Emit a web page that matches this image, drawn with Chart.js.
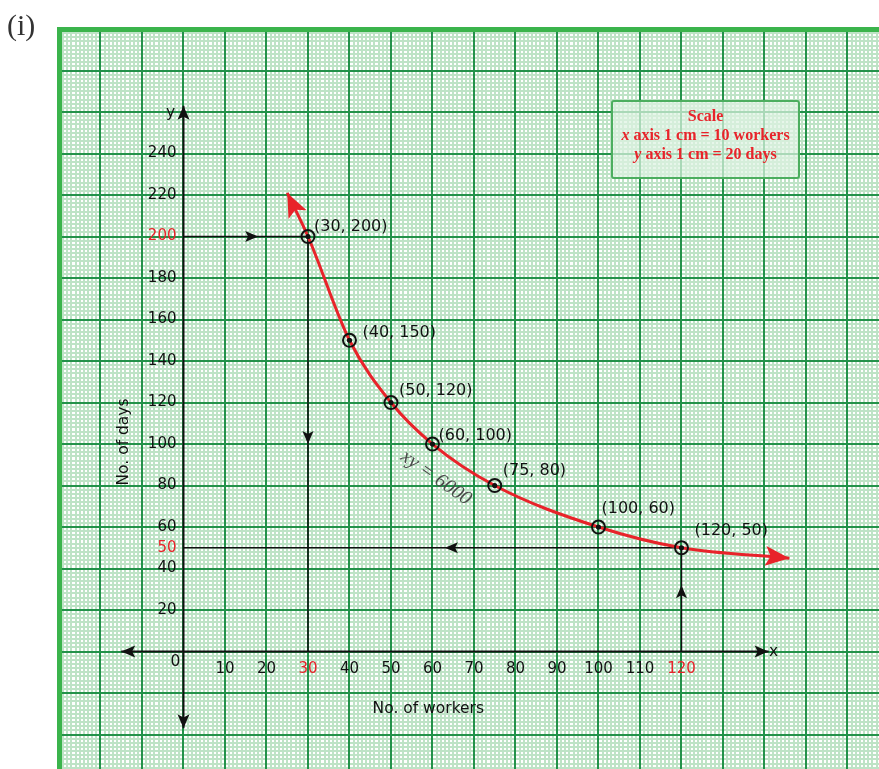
<!DOCTYPE html>
<html>
<head>
<meta charset="utf-8">
<script src="https://cdn.jsdelivr.net/npm/chart.js@4.4.1/dist/chart.umd.min.js"></script>
<style>
    html, body { margin: 0; padding: 0; background: #fff; overflow: hidden; }
    #wrap { width: 879px; height: 769px; }
    canvas { display: block; }
</style>
</head>
<body>
<div id="wrap"><canvas id="graph" width="879" height="769"></canvas></div>
<script>
// plotted points: no. of workers -> no. of days
const workers = [30, 40, 50, 60, 75, 100, 120];
const days = [200, 150, 120, 100, 80, 60, 50];

const curveWorkers = [25, 30, 40, 50, 60, 75, 100, 120, 146];
const curveDays = [221, 200, 150, 120, 100, 80, 60, 50, 45];

// tick labels along the drawn axes
const xTickLabels = [10, 20, 30, 40, 50, 60, 70, 80, 90, 100, 110, 120];
const yTickLabels = [20, 40, 50, 60, 80, 100, 120, 140, 160, 180, 200, 220, 240];
const xRedTicks = [30, 120];
const yRedTicks = [50, 200];

// axis lines (with arrows) and the dropped guide lines
const xAxisLine = [[-15, 0], [141, 0]];
const yAxisLine = [[0, -37], [0, 263]];
const guideTop = [[0, 200], [30, 200]];
const guideDown = [[30, 200], [30, 0]];
const guideLeft = [[120, 50], [0, 50]];
const guideUp = [[120, 0], [120, 50]];

// label offsets in px from each point (style only)
const labelOffsets = [[6, -10], [13, -7], [8, -12], [6, -8], [8, -15], [3, -18], [13, -17]];

const RED = "#e8232a";
const INK = "#111";
const FONT = "'DejaVu Sans', Verdana, sans-serif";
const SERIF = "'Liberation Serif', 'DejaVu Serif', serif";

const toXY = pairs => pairs.map(([x, y]) => ({ x, y }));

function arrowHead(ctx, tipX, tipY, angle, len, half, color) {
    ctx.save();
    ctx.translate(tipX, tipY);
    ctx.rotate(angle);
    ctx.beginPath();
    ctx.moveTo(0, 0);
    ctx.lineTo(-len, -half);
    ctx.lineTo(-len * 0.78, 0);
    ctx.lineTo(-len, half);
    ctx.closePath();
    ctx.fillStyle = color;
    ctx.fill();
    ctx.restore();
}

const arrowPlugin = {
    id: "arrows",
    afterDatasetsDraw(chart) {
        const ctx = chart.ctx;
        chart.data.datasets.forEach((ds, i) => {
            const pts = chart.getDatasetMeta(i).data;
            if (pts.length < 2) return;
            const color = ds.borderColor;
            const [len, half] = ds.arrowSize || [13, 5.5];
            if (ds.arrowEnds) {
                const a = pts[0], b = pts[pts.length - 1];
                const hasCp2 = a.cp2x !== undefined && (a.cp2x !== a.x || a.cp2y !== a.y);
                const sx = hasCp2 ? a.cp2x : pts[1].x;
                const sy = hasCp2 ? a.cp2y : pts[1].y;
                arrowHead(ctx, a.x, a.y, Math.atan2(a.y - sy, a.x - sx), len, half, color);
                const p = pts[pts.length - 2];
                const hasCp1 = b.cp1x !== undefined && (b.cp1x !== b.x || b.cp1y !== b.y);
                const ex = hasCp1 ? b.cp1x : p.x;
                const ey = hasCp1 ? b.cp1y : p.y;
                arrowHead(ctx, b.x, b.y, Math.atan2(b.y - ey, b.x - ex), len, half, color);
            }
            if (ds.midArrow) {
                const a = pts[0], b = pts[1];
                const tx = a.x + (b.x - a.x) * ds.midArrow;
                const ty = a.y + (b.y - a.y) * ds.midArrow;
                arrowHead(ctx, tx, ty, Math.atan2(b.y - a.y, b.x - a.x), len, half, color);
            }
        });
    }
};

const labelPlugin = {
    id: "labels",
    afterDatasetsDraw(chart) {
        const ctx = chart.ctx;
        const xs = chart.scales.x, ys = chart.scales.y;
        const ox = xs.getPixelForValue(0), oy = ys.getPixelForValue(0);
        ctx.save();

        // title "(i)"
        ctx.fillStyle = "#333";
        ctx.font = "30px " + SERIF;
        ctx.textAlign = "left";
        ctx.textBaseline = "middle";
        ctx.fillText("(i)", 7, 27);

        // tick labels
        ctx.font = "15px " + FONT;
        ctx.textAlign = "right";
        yTickLabels.forEach(v => {
            ctx.fillStyle = yRedTicks.includes(v) ? RED : INK;
            ctx.fillText(String(v), ox - 7, ys.getPixelForValue(v));
        });
        ctx.textAlign = "center";
        xTickLabels.forEach(v => {
            ctx.fillStyle = xRedTicks.includes(v) ? RED : INK;
            ctx.fillText(String(v), xs.getPixelForValue(v), oy + 17.5);
        });
        ctx.fillStyle = INK;
        ctx.font = "15.5px " + FONT;
        ctx.fillText("0", ox - 8, oy + 10);
        ctx.fillText("x", xs.getPixelForValue(141) + 5, oy);
        ctx.fillText("y", ox - 13, ys.getPixelForValue(263) + 7);

        // axis titles
        ctx.fillText("No. of workers", xs.getPixelForValue(59), oy + 57);
        ctx.save();
        ctx.translate(ox - 60, ys.getPixelForValue(101));
        ctx.rotate(-Math.PI / 2);
        ctx.fillText("No. of days", 0, 0);
        ctx.restore();

        // point labels
        ctx.font = "16px " + FONT;
        ctx.textAlign = "left";
        workers.forEach((w, i) => {
            const px = xs.getPixelForValue(w) + labelOffsets[i][0];
            const py = ys.getPixelForValue(days[i]) + labelOffsets[i][1];
            ctx.fillText(`(${w}, ${days[i]})`, px, py);
        });

        // equation along the curve
        ctx.save();
        ctx.translate(436, 478);
        ctx.rotate(35 * Math.PI / 180);
        ctx.fillStyle = "#4a4a4a";
        ctx.font = "italic 20px " + SERIF;
        ctx.textAlign = "center";
        ctx.fillText("xy = 6000", 0, 0);
        ctx.restore();

        // scale box
        ctx.fillStyle = "rgba(222, 243, 226, 0.72)";
        ctx.strokeStyle = "#4cae5f";
        ctx.lineWidth = 2;
        ctx.beginPath();
        ctx.roundRect(612, 101, 187, 77, 2);
        ctx.fill();
        ctx.stroke();

        ctx.fillStyle = RED;
        ctx.textAlign = "left";
        const lines = [
            ["", "Scale"],
            ["x", " axis 1 cm = 10 workers"],
            ["y", " axis 1 cm = 20 days"]
        ];
        const lineY = [117, 136, 155];
        lines.forEach(([it, rest], k) => {
            ctx.font = "bold italic 16px " + SERIF;
            const w1 = ctx.measureText(it).width;
            ctx.font = "bold 16px " + SERIF;
            const w2 = ctx.measureText(rest).width;
            const start = 705.5 - (w1 + w2) / 2;
            ctx.font = "bold italic 16px " + SERIF;
            ctx.fillText(it, start, lineY[k]);
            ctx.font = "bold 16px " + SERIF;
            ctx.fillText(rest, start + w1, lineY[k]);
        });

        ctx.restore();
    }
};

const X_MIN = -30, X_MAX = 167.6;
const Y_MIN = -56.6, Y_MAX = 300;

function paperScale(position, step, color, width, z, border) {
    return {
        type: "linear",
        position: position,
        min: position === "top" ? X_MIN : Y_MIN,
        max: position === "top" ? X_MAX : Y_MAX,
        ticks: { display: false, stepSize: step, includeBounds: false },
        grid: { color: color, lineWidth: width, drawTicks: false, z: z },
        border: border ? { display: true, color: "#3bb44c", width: 5 } : { display: false }
    };
}

const lineStyle = { showLine: true, pointRadius: 0, pointHoverRadius: 0, fill: false };
const MINOR = "rgb(190, 227, 198)";
const MAJOR = "#23924a";

new Chart(document.getElementById("graph"), {
    type: "scatter",
    data: {
        datasets: [
            {
                data: workers.map((w, i) => ({ x: w, y: days[i] })),
                pointRadius: 2.6, pointBackgroundColor: INK, pointBorderWidth: 0
            },
            {
                data: workers.map((w, i) => ({ x: w, y: days[i] })),
                pointRadius: 6.5, pointBorderWidth: 2, pointBorderColor: INK,
                pointBackgroundColor: "rgba(0,0,0,0)"
            },
            {
                ...lineStyle,
                data: curveWorkers.map((w, i) => ({ x: w, y: curveDays[i] })),
                borderColor: RED, borderWidth: 3,
                cubicInterpolationMode: "monotone",
                arrowEnds: true, arrowSize: [24, 10]
            },
            { ...lineStyle, data: toXY(guideTop), borderColor: INK, borderWidth: 1.5, midArrow: 0.6 },
            { ...lineStyle, data: toXY(guideDown), borderColor: INK, borderWidth: 1.5, midArrow: 0.5 },
            { ...lineStyle, data: toXY(guideLeft), borderColor: INK, borderWidth: 1.5, midArrow: 0.475 },
            { ...lineStyle, data: toXY(guideUp), borderColor: INK, borderWidth: 1.5, midArrow: 0.64 },
            { ...lineStyle, data: toXY(xAxisLine), borderColor: INK, borderWidth: 2, arrowEnds: true, arrowSize: [14, 6] },
            { ...lineStyle, data: toXY(yAxisLine), borderColor: INK, borderWidth: 2, arrowEnds: true, arrowSize: [14, 6] }
        ]
    },
    options: {
        responsive: false,
        animation: false,
        layout: { autoPadding: false, padding: { left: 59, top: 29, right: 0, bottom: 0 } },
        plugins: { legend: { display: false }, tooltip: { enabled: false } },
        events: [],
        scales: {
            x: paperScale("top", 1, MINOR, 2, -2, true),
            y: paperScale("left", 2, MINOR, 2, -2, true),
            xMajor: paperScale("top", 10, MAJOR, 2, -1, false),
            yMajor: paperScale("left", 20, MAJOR, 2, -1, false)
        }
    },
    plugins: [arrowPlugin, labelPlugin]
});
</script>
</body>
</html>
